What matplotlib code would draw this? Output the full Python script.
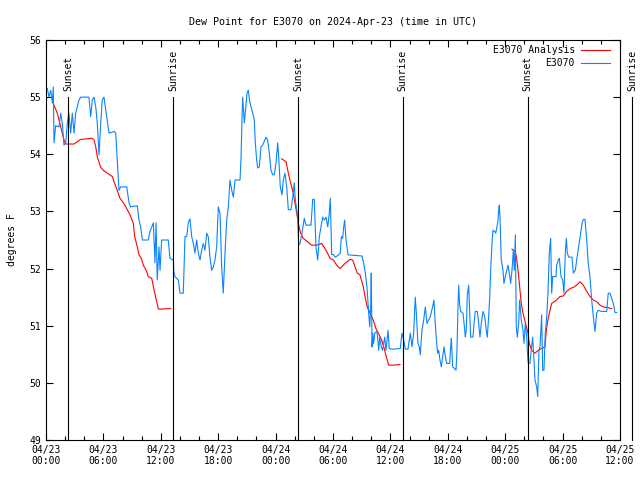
import numpy as np
import pandas as pd
import matplotlib
matplotlib.use("Agg")
import matplotlib.pyplot as plt
import matplotlib.dates as mdates

plt.rcParams['font.family'] = ['DejaVu Sans Mono']
plt.rcParams['font.size'] = 7

start = pd.Timestamp("2024-04-23 00:00")

# observed dew point (hours after start, deg F)
obs_hours = [0.14, 0.31, 0.49, 0.66, 0.76, 0.84, 1.01, 1.36, 1.54, 1.70, 1.88, 2.06, 2.23, 2.40, 2.58,
             2.75, 2.93, 3.10, 3.45, 3.63, 4.49, 4.67, 4.84, 5.02, 5.20, 5.36, 5.54, 5.72, 5.88, 6.06,
             6.24, 6.59, 7.11, 7.29, 7.45, 7.63, 7.81, 8.44, 8.68, 8.85, 9.54, 9.72, 9.90, 10.07, 10.69,
             10.87, 11.22, 11.39, 11.50, 11.63, 11.81, 11.92, 12.09, 12.78, 12.96, 13.31, 13.36, 13.48,
             13.83, 14.01, 14.35, 14.53, 14.71, 14.87, 15.05, 15.23, 15.40, 15.57, 15.75, 15.92, 16.10,
             16.27, 16.44, 16.62, 16.80, 16.96, 17.14, 17.32, 17.49, 17.66, 17.84, 18.01, 18.19, 18.36,
             18.53, 18.71, 18.89, 19.06, 19.23, 19.41, 19.58, 19.76, 20.28, 20.38, 20.49, 20.56, 20.73,
             20.83, 21.01, 21.15, 21.32, 21.61, 21.77, 21.88, 22.02, 22.13, 22.30, 22.47, 22.65, 23.00,
             23.17, 23.34, 23.52, 23.70, 23.86, 24.04, 24.22, 24.32, 24.49, 24.67, 24.80, 24.98, 25.16,
             25.33, 25.61, 25.79, 25.95, 26.06, 26.21, 26.31, 26.41, 26.55, 26.76, 27.00, 27.18, 27.70,
             27.88, 28.04, 28.22, 28.40, 28.57, 28.74, 28.92, 29.09, 29.27, 29.45, 29.61, 29.72, 29.86,
             30.03, 30.24, 30.59, 30.76, 30.87, 31.01, 31.12, 31.22, 31.36, 31.57, 33.03, 33.21, 33.38,
             33.55, 33.73, 33.84, 33.94, 34.00, 34.08, 34.15, 34.25, 34.36, 34.60, 34.78, 34.88, 35.05,
             35.19, 35.40, 35.54, 35.75, 35.88, 36.17, 37.03, 37.21, 37.39, 37.56, 37.84, 38.08, 38.26,
             38.43, 38.60, 38.71, 38.88, 39.02, 39.12, 39.30, 39.48, 39.65, 39.82, 40.00, 40.17, 40.45,
             40.55, 40.69, 40.84, 40.94, 41.05, 41.18, 41.32, 41.47, 41.60, 41.74, 41.88, 42.20, 42.30,
             42.37, 42.51, 42.72, 42.86, 42.96, 43.07, 43.14, 43.24, 43.35, 43.59, 43.70, 43.83, 43.93,
             44.04, 44.18, 44.29, 44.39, 44.63, 44.74, 44.87, 45.08, 45.23, 45.36, 45.50, 45.68, 45.86,
             46.02, 46.13, 46.27, 46.38, 46.48, 46.62, 46.72, 46.90, 47.01, 47.14, 47.25, 47.32, 47.38,
             47.46, 47.59, 47.77, 47.87, 48.01, 48.16, 48.29, 48.43, 48.57, 48.71, 48.85, 48.95, 49.06,
             49.16, 49.26, 49.41, 49.51, 49.68, 49.86, 49.96, 50.10, 50.25, 50.35, 50.41, 50.58, 50.77,
             50.87, 51.01, 51.11, 51.29, 51.40, 51.53, 51.64, 51.74, 51.81, 51.92, 52.05, 52.19, 52.34,
             52.47, 52.61, 52.75, 52.86, 52.96, 53.31, 53.38, 53.55, 53.66, 53.83, 54.01, 54.14, 54.28,
             54.39, 54.49, 54.64, 54.98, 55.12, 55.33, 55.47, 55.68, 55.89, 56.03, 56.16, 56.34, 56.52,
             56.68, 56.86, 57.04, 57.21, 57.39, 57.56, 57.73, 58.08, 58.61, 58.77, 58.95, 59.13, 59.30,
             59.48, 59.65]
obs_vals = [55.15, 55.0, 55.12, 54.9, 55.18, 54.2, 54.5, 54.48, 54.72, 54.55, 54.16, 54.2, 54.55, 54.72,
            54.37, 54.72, 54.37, 54.72, 54.95, 55.0, 55.0, 54.66, 54.95, 55.0, 54.83, 54.55, 53.99, 54.55,
            54.95, 55.0, 54.78, 54.37, 54.4, 54.37, 53.9, 53.37, 53.43, 53.43, 53.15, 53.08, 53.1, 52.85,
            52.73, 52.5, 52.5, 52.65, 52.8, 52.1, 52.8, 51.8, 52.38, 51.97, 52.5, 52.5, 52.18, 52.15,
            51.95, 51.86, 51.8, 51.57, 51.57, 52.56, 52.56, 52.8, 52.87, 52.56, 52.44, 52.27, 52.5, 52.27,
            52.15, 52.32, 52.44, 52.32, 52.62, 52.56, 52.2, 51.97, 52.03, 52.15, 52.38, 53.08, 52.97,
            52.03, 51.57, 52.27, 52.85, 53.08, 53.55, 53.37, 53.25, 53.55, 53.55, 53.9, 54.63, 55.0,
            54.55, 54.72, 55.07, 55.12, 54.9, 54.72, 54.6, 54.2, 53.9, 53.76, 53.78, 54.13, 54.16, 54.3,
            54.25, 54.02, 53.72, 53.64, 53.64, 53.84, 54.2, 53.96, 53.43, 53.29, 53.55, 53.67, 53.43,
            53.03, 53.03, 53.25, 53.5, 53.2, 53.03, 52.9, 52.41, 52.44, 52.62, 52.88, 52.76, 52.76, 53.21,
            53.21, 52.38, 52.15, 52.56, 52.73, 52.9, 52.85, 52.9, 52.73, 52.97, 53.23, 52.24, 52.25, 52.2,
            52.24, 52.27, 52.56, 52.53, 52.73, 52.85, 52.5, 52.24, 52.22, 52.09, 51.92, 51.68, 51.22,
            50.98, 51.33, 51.92, 50.63, 50.87, 50.69, 50.87, 50.9, 50.57, 50.8, 50.63, 50.57, 50.8, 50.57,
            50.92, 50.6, 50.59, 50.6, 50.87, 50.75, 50.59, 50.59, 50.87, 50.63, 50.87, 51.5, 51.22, 50.69,
            50.63, 50.49, 50.92, 51.1, 51.33, 51.04, 51.1, 51.16, 51.36, 51.45, 51.04, 50.69, 50.52,
            50.57, 50.4, 50.28, 50.46, 50.63, 50.46, 50.34, 50.34, 50.63, 50.78, 50.28, 50.25, 50.22,
            50.57, 51.36, 51.71, 51.36, 51.25, 51.22, 51.04, 50.8, 50.92, 51.54, 51.71, 51.25, 50.8, 50.8,
            51.04, 51.25, 51.25, 51.04, 50.8, 51.04, 51.25, 51.16, 50.92, 50.8, 51.16, 51.48, 51.97,
            52.44, 52.67, 52.65, 52.62, 52.73, 52.85, 53.03, 53.11, 52.88, 52.15, 51.97, 51.74, 51.86,
            51.97, 52.06, 51.92, 51.74, 51.97, 52.32, 51.97, 52.59, 50.98, 50.8, 51.04, 51.45, 51.1,
            50.92, 50.69, 51.04, 50.8, 50.46, 50.34, 50.34, 50.63, 50.8, 50.4, 50.05, 49.93, 49.76, 50.57,
            50.63, 50.98, 51.19, 50.22, 50.22, 50.87, 51.16, 51.57, 52.27, 52.53, 51.57, 51.86, 51.86,
            52.06, 52.15, 52.18, 51.86, 51.8, 51.57, 52.27, 52.53, 52.27, 52.2, 52.2, 51.92, 51.97, 52.15,
            52.38, 52.62, 52.79, 52.86, 52.86, 52.5, 52.09, 51.86, 51.45, 51.16, 50.9, 51.22, 51.27,
            51.25, 51.25, 51.57, 51.57, 51.48, 51.39, 51.23, 51.23]

# analysis dew point, three runs separated by gaps
ana_hours = [0.76, 1.18, 1.54, 1.88, 2.06, 2.93, 3.27, 3.63, 4.84, 5.02, 5.20, 5.36, 5.72, 6.06, 6.59,
             6.93, 7.11, 7.45, 7.73, 8.15, 8.50, 8.78, 9.13, 9.27, 9.54, 9.72, 9.96, 10.17, 10.53, 10.69,
             11.05, 11.29, 11.57, 11.74, 13.03, 18.0,
             24.64, 25.09, 25.33, 25.58, 25.85, 26.03, 26.21, 26.37, 26.62, 26.89, 27.77, 28.30, 28.82,
             29.34, 29.69, 30.03, 30.39, 30.73, 31.25, 31.78, 32.06, 32.30, 32.54, 32.82, 33.17, 33.34,
             33.58, 33.87, 34.21, 34.49, 34.73, 35.09, 35.36, 35.61, 35.82, 36.30, 37.00, 42.0,
             48.71, 49.06, 49.16, 49.26, 49.41, 49.54, 49.68, 49.86, 50.04, 50.21, 50.35, 50.52, 50.77,
             51.11, 51.46, 51.81, 52.16, 52.27, 52.40, 52.61, 52.86, 53.38, 53.73, 54.07, 54.43, 54.77,
             55.12, 55.47, 55.82, 56.16, 56.52, 56.86, 57.21, 57.56, 57.91, 58.25, 58.61, 59.13]
ana_vals = [54.89, 54.72, 54.48, 54.25, 54.18, 54.18, 54.22, 54.26, 54.28, 54.25, 54.13, 53.96, 53.77,
            53.71, 53.65, 53.61, 53.52, 53.37, 53.23, 53.14, 53.03, 52.94, 52.79, 52.56, 52.38, 52.24,
            52.18, 52.06, 51.95, 51.86, 51.83, 51.63, 51.42, 51.29, 51.3, np.nan,
            53.92, 53.87, 53.67, 53.49, 53.32, 53.14, 52.97, 52.79, 52.62, 52.53, 52.41, 52.41, 52.44,
            52.30, 52.18, 52.15, 52.06, 52.0, 52.09, 52.16, 52.15, 52.03, 51.92, 51.89, 51.68, 51.51,
            51.33, 51.22, 51.10, 50.95, 50.87, 50.75, 50.60, 50.43, 50.31, 50.31, 50.32, np.nan,
            52.34, 52.30, 52.20, 52.09, 51.86, 51.63, 51.39, 51.22, 51.10, 50.98, 50.90, 50.69, 50.57,
            50.52, 50.57, 50.60, 50.63, 50.87, 51.04, 51.22, 51.39, 51.45, 51.51, 51.52, 51.60, 51.65,
            51.67, 51.71, 51.77, 51.71, 51.60, 51.51, 51.45, 51.42, 51.36, 51.33, 51.32, 51.30]

sun_hours = [2.30, 13.27, 26.33, 37.30, 50.37, 61.28]
sun_labels = ["Sunset", "Sunrise", "Sunset", "Sunrise", "Sunset", "Sunrise"]

obs_t = start + pd.to_timedelta(obs_hours, unit="h")
ana_t = start + pd.to_timedelta(ana_hours, unit="h")
sun_t = start + pd.to_timedelta(sun_hours, unit="h")

fig = plt.figure(figsize=(6.4, 4.8), dpi=100)
ax = fig.add_axes([46 / 640, 40 / 480, 574 / 640, 400 / 480])

ax.plot(ana_t, ana_vals, color="red", lw=0.8, label="E3070 Analysis")
ax.plot(obs_t, obs_vals, color="#0a84ff", lw=0.8, label="E3070")

for t, lab in zip(sun_t, sun_labels):
    ax.plot([t, t], [49, 55], color="black", lw=0.8, clip_on=False)
    ax.text(t, 55.1, lab, rotation=90, ha="center", va="bottom", clip_on=False)

ax.set_xlim(start, start + pd.Timedelta(hours=60))
ax.set_ylim(49, 56)
ax.xaxis.set_major_locator(mdates.HourLocator(byhour=[0, 6, 12, 18]))
ax.xaxis.set_minor_locator(mdates.HourLocator(interval=2))
ax.xaxis.set_major_formatter(mdates.DateFormatter("%m/%d\n%H:%M"))
ax.tick_params(which="both", direction="in", top=True, right=True, labelsize=7)
ax.tick_params(which="major", length=5, width=0.8)
ax.tick_params(which="minor", length=3, width=0.8)
for s in ax.spines.values():
    s.set_linewidth(0.8)

ax.set_ylabel("degrees F", labelpad=9)
ax.set_title("Dew Point for E3070 on 2024-Apr-23 (time in UTC)", fontsize=7.2, pad=11)
ax.legend(loc="upper right", frameon=False, markerfirst=False, fontsize=7,
          handlelength=3, handletextpad=0.6, labelspacing=0.35,
          borderaxespad=0.0, borderpad=0.0, bbox_to_anchor=(1 - 10 / 574, 1 - 5 / 400))

fig.savefig("out.png", dpi=100)
